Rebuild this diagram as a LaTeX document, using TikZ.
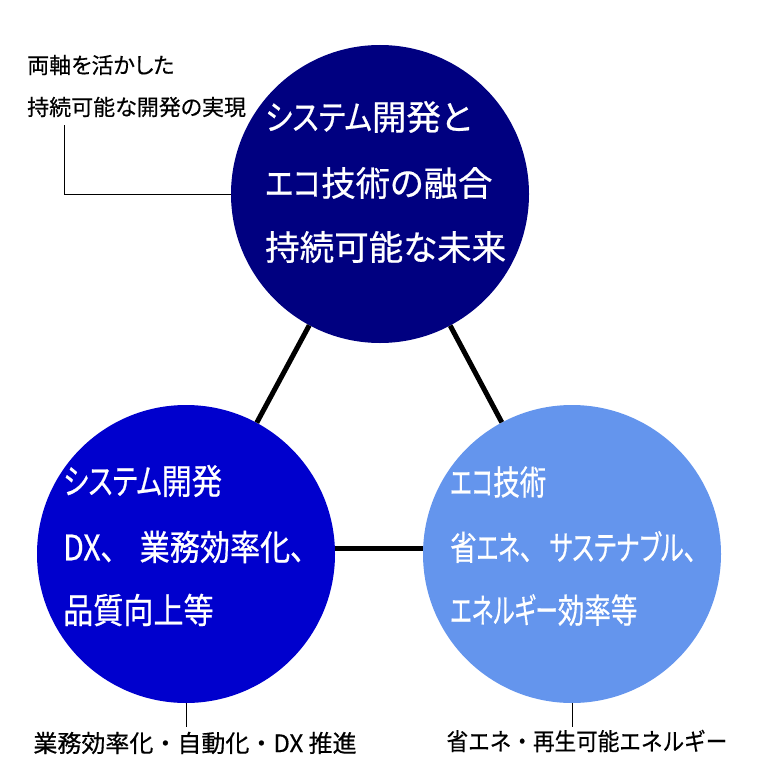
\documentclass[tikz,border=0pt]{standalone}
\usepackage{graphicx}
\usepackage{fontspec}
\newfontfamily\jp[RawFeature=+palt,FakeBold=0.6]{Noto Sans CJK JP}
\newfontfamily\jpf[FakeBold=0.5]{Noto Sans CJK JP}
\newfontfamily\jpa[RawFeature=+palt,FakeBold=0.4]{Noto Sans CJK JP}
\newcommand\katak[2][0.85]{\scalebox{#1}[1]{#2}}
\newcommand\condense[2]{\scalebox{#1}[1]{#2}}
\definecolor{navyc}{RGB}{0,0,128}
\definecolor{medblue}{RGB}{0,0,205}
\definecolor{cornblue}{RGB}{100,149,237}
\begin{document}
\begin{tikzpicture}[x=1pt,y=-1pt,
  circ/.style={circle,minimum size=298pt,inner sep=0pt,draw=none},
  link/.style={line width=5pt,black},
  lead/.style={line width=0.9pt,black},
  toptext/.style={anchor=west,text=white,inner sep=0pt,font=\jp\fontsize{34.5}{34.5}\selectfont},
  lefttext/.style={anchor=west,text=white,inner sep=0pt,font=\jp\fontsize{35}{35}\selectfont},
  righttext/.style={anchor=west,text=white,inner sep=0pt,font=\jp\fontsize{34}{34}\selectfont},
  lab/.style={inner sep=0pt,font=\jpf\fontsize{24}{24}\selectfont},
  ann/.style={inner sep=0pt,anchor=west,font=\jpa\fontsize{22}{22}\selectfont}]
\useasboundingbox (0,0) rectangle (760,760);
\node[circ,fill=navyc] (T) at (380,194) {};
\node[circ,fill=medblue] (L) at (186,554) {};
\node[circ,fill=cornblue] (R) at (572,554) {};
\draw[link] (T) -- (L);
\draw[link] (T) -- (R);
\draw[link] (L.2) -- (R.178);
% top circle text
\node[toptext] (t1) at (265,117) {\katak{システム}開発と};
\node[toptext] (t2) at (265,183) {\katak{エコ}技術の融合};
\node[toptext] (t3) at (265,247) {持続可能な未来};
% left circle text
\node[lefttext] (l1) at (63,481) {\condense{0.86}{\katak[0.9]{システム}開発}};
\node[lefttext] (l2) at (63,547) {\condense{0.86}{DX、\hspace{28pt}業務効率化、}};
\node[lefttext] (l3) at (63,610) {\condense{0.86}{品質向上等}};
% right circle text
\node[righttext] (r1) at (450,482) {\condense{0.78}{\katak{エコ}技術}};
\node[righttext] (r2) at (450,547) {\condense{0.78}{省\katak{エネ}、\hspace{21pt}\katak[0.92]{サステナブル}、}};
\node[righttext] (r3) at (450,610) {\condense{0.78}{\katak{エネルギー}効率等}};
% annotations
\node[ann] (a1) at (27,65) {両軸を活かした};
\node[ann] (a2) at (27,107) {持続可能な開発の実現};
\coordinate (ac) at (64,125);
\draw[lead] (ac) |- (T.west);
\draw[lead] (L.south) -- ++(0,24) coordinate (lc);
\node[lab] (lb) at (195,743) {業務効率化・自動化・DX 推進};
\draw[lead] (R.south) -- ++(0,24) coordinate (rc);
\node[lab] (rb) at (587,741) {\condense{0.9}{省エネ・再生可能エネルギー}};
\end{tikzpicture}
\end{document}
